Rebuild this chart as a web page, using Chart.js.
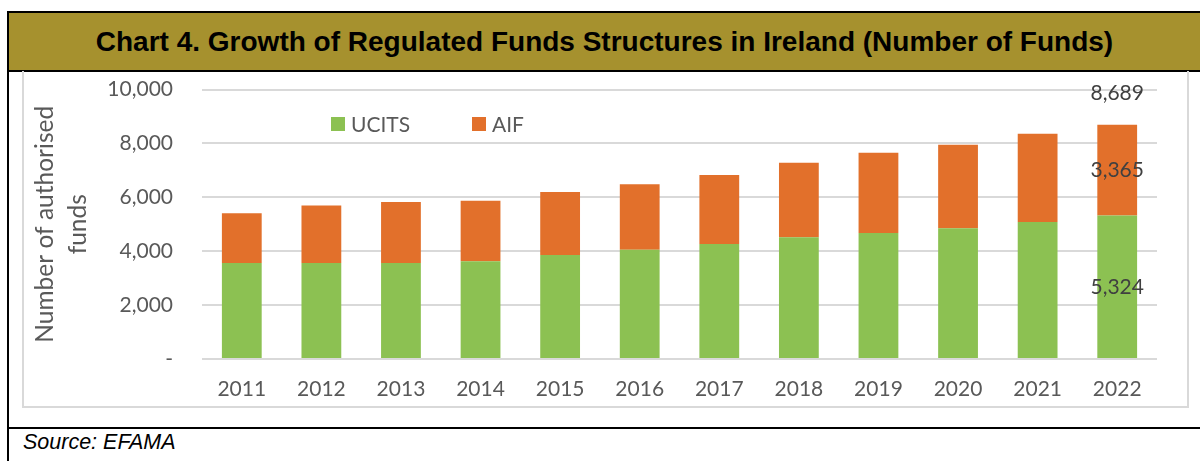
<!DOCTYPE html>
<html>
<head>
<meta charset="utf-8">
<script src="https://cdn.jsdelivr.net/npm/chart.js@4.4.1/dist/chart.umd.min.js"></script>
<style>
  html, body { margin: 0; padding: 0; background: #fff; width: 1200px; height: 461px; overflow: hidden; }
  .blk { position: absolute; background: #000; }
  #banner { position: absolute; left: 9px; top: 13px; width: 1300px; height: 57px; background: #A6912E; }
  #title { position: absolute; left: 9px; top: 13px; width: 1191px; height: 57px; line-height: 57px; text-align: center;
           font-family: "Liberation Sans", Arial, sans-serif; font-weight: bold; font-size: 28px; color: #000; }
  #frame { position: absolute; left: 22px; top: 71px; width: 1163px; height: 335px; border: 2px solid #d9d9d9; border-top: none; }
  #wrap { position: absolute; left: 22px; top: 72px; width: 1165px; height: 336px; }
  #source { position: absolute; left: 23px; top: 429px; height: 26px; line-height: 26px;
            font-family: "Liberation Sans", Arial, sans-serif; font-style: italic; font-size: 21.5px; color: #000; }
  .leg { position: absolute; font-family: Lato, sans-serif; font-size: 21px; color: #595959; line-height: 24px; }
  .sw { position: absolute; width: 14px; height: 14px; }
</style>
</head>
<body>
<div id="banner"></div>
<div id="title">Chart 4. Growth of Regulated Funds Structures in Ireland (Number of Funds)</div>
<div class="blk" style="left:7px;top:11px;width:1300px;height:2px"></div>
<div class="blk" style="left:7px;top:70px;width:1300px;height:2px"></div>
<div class="blk" style="left:7px;top:11px;width:2px;height:500px"></div>
<div id="frame"></div>
<div id="wrap"><canvas id="grafik"></canvas></div>
<div class="blk" style="left:7px;top:427px;width:1300px;height:2px"></div>
<div id="source">Source: EFAMA</div>

<div class="sw" style="left:331px;top:117px;background:#8CC152"></div>
<div class="leg" style="left:351px;top:112px">UCITS</div>
<div class="sw" style="left:472px;top:117px;background:#E2702B"></div>
<div class="leg" style="left:492px;top:112px">AIF</div>

<script>
// data
const tahun = ["2011","2012","2013","2014","2015","2016","2017","2018","2019","2020","2021","2022"];
const ucits = [3560, 3560, 3560, 3625, 3860, 4055, 4265, 4515, 4675, 4850, 5085, 5324];
const aif   = [1845, 2140, 2265, 2250, 2340, 2425, 2560, 2770, 2980, 3100, 3275, 3365];
const yTicks = [0, 2000, 4000, 6000, 8000, 10000];

const warnaUcits = "#8CC152";
const warnaAif = "#E2702B";
const abu = "#595959";

// label angka hanya untuk tahun terakhir
const labelPlugin = {
  id: "labelAkhir",
  afterDatasetsDraw(chart) {
    const ctx = chart.ctx;
    const i = tahun.length - 1;
    const barU = chart.getDatasetMeta(0).data[i];
    const barA = chart.getDatasetMeta(1).data[i];
    const yScale = chart.scales.y;
    const total = ucits[i] + aif[i];
    const fmt = v => v.toLocaleString("en-US");
    ctx.save();
    ctx.font = "21px Lato";
    ctx.fillStyle = "#404040";
    ctx.textAlign = "center";
    ctx.textBaseline = "middle";
    ctx.fillText(fmt(ucits[i]), barU.x, (barU.y + barU.base) / 2);
    ctx.fillText(fmt(aif[i]), barA.x, (barA.y + barA.base) / 2);
    ctx.fillText(fmt(total), barA.x, yScale.getPixelForValue(yTicks[yTicks.length - 1]) + 4);
    ctx.restore();
  }
};

new Chart(document.getElementById("grafik"), {
  type: "bar",
  data: {
    labels: tahun,
    datasets: [
      { label: "UCITS", data: ucits, backgroundColor: warnaUcits },
      { label: "AIF", data: aif, backgroundColor: warnaAif }
    ]
  },
  options: {
    responsive: true,
    maintainAspectRatio: false,
    animation: false,
    layout: { padding: { top: 17.5, right: 30, left: 0, bottom: 0 } },
    datasets: { bar: { categoryPercentage: 1, barPercentage: 0.5 } },
    plugins: { legend: { display: false }, tooltip: { enabled: false } },
    scales: {
      x: {
        stacked: true,
        grid: { display: false, drawTicks: false },
        border: { display: false },
        ticks: { color: abu, font: { family: "Lato", size: 21 }, padding: 18, maxRotation: 0 },
        afterFit: s => { s.height = 49; s.paddingLeft = 0; s.paddingRight = 0; }
      },
      y: {
        stacked: true,
        min: 0,
        max: 10000,
        afterBuildTicks: s => { s.ticks = yTicks.map(v => ({ value: v })); },
        grid: { color: "#d9d9d9", lineWidth: 2, drawTicks: false },
        border: { display: false },
        ticks: {
          color: abu,
          font: { family: "Lato", size: 21 },
          padding: 29,
          callback: v => v === 0 ? "-" : v.toLocaleString("en-US")
        },
        title: {
          display: true,
          text: ["Number of authorised", "funds"],
          color: abu,
          font: { family: "Lato", size: 24.5, lineHeight: 33 / 24.5 },
          padding: { top: 6.5, bottom: 0 }
        },
        afterFit: s => { s.width = 180; s.paddingTop = 0; s.paddingBottom = 0; }
      }
    }
  },
  plugins: [labelPlugin]
});
</script>
</body>
</html>
